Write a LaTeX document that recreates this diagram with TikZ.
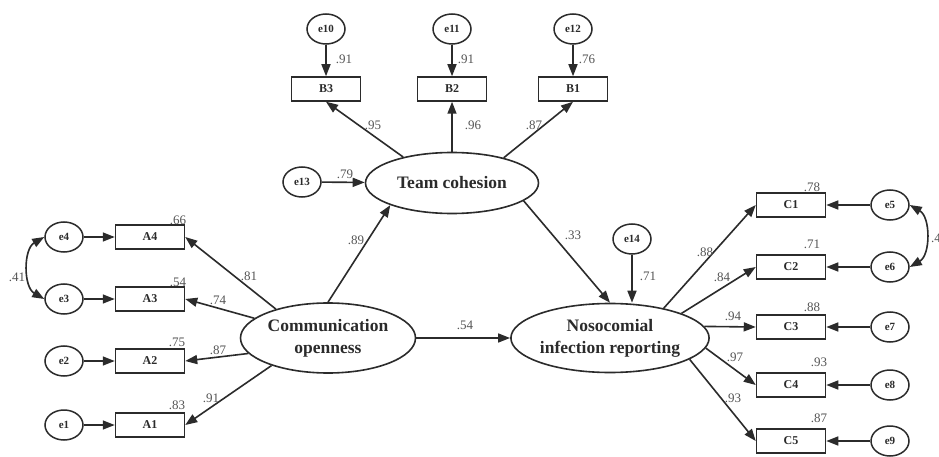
\documentclass[tikz,border=0pt]{standalone}
\usepackage{fontspec}
\setmainfont{Liberation Serif}
\usetikzlibrary{arrows.meta,shapes.geometric}
\definecolor{ln}{HTML}{2B2B2B}
\definecolor{num}{HTML}{555555}
\begin{document}
\begin{tikzpicture}[x=1pt,y=-1pt,
  lat/.style={ellipse,draw=ln,line width=1.6pt,inner sep=0pt,minimum width=175pt,minimum height=70pt,
    font=\fontsize{17.5}{22}\selectfont\bfseries,text=ln,align=center},
  err/.style={ellipse,draw=ln,line width=1.5pt,minimum width=38pt,minimum height=30pt,inner sep=0pt,
    font=\fontsize{11}{13}\selectfont\bfseries,text=ln},
  obs/.style={rectangle,draw=ln,line width=1.5pt,minimum width=69pt,minimum height=24pt,inner sep=0pt,
    font=\fontsize{12}{14}\selectfont\bfseries,text=ln},
  val/.style={font=\fontsize{13}{15}\selectfont,text=num,inner sep=0pt},
  arr/.style={draw=ln,line width=1.6pt,-{Triangle[length=12pt,width=9pt]}},
  cov/.style={draw=ln,line width=1.6pt,{Triangle[length=12pt,width=9pt]}-{Triangle[length=12pt,width=9pt]}}
]
\useasboundingbox (0,0) rectangle (939,457);
\fill[white] (0,0) rectangle (939,457);

% latent variables
\node[lat] (comm) at (328,338) {Communication\\openness};
\node[lat,minimum width=173pt,minimum height=69pt] (nos) at (610,338) {Nosocomial\\infection reporting};
\node[lat,minimum width=173pt,minimum height=61pt] (team) at (452,183) {Team cohesion};

% left indicators
\node[obs] (A4) at (150,237) {A4};
\node[obs] (A3) at (150,299) {A3};
\node[obs] (A2) at (150,361) {A2};
\node[obs] (A1) at (150,425) {A1};
\node[err] (e4) at (64,237) {e4};
\node[err] (e3) at (64,299) {e3};
\node[err] (e2) at (64,361) {e2};
\node[err] (e1) at (64,425) {e1};

% top indicators
\node[obs] (B3) at (326,89) {B3};
\node[obs] (B2) at (452,89) {B2};
\node[obs] (B1) at (573,89) {B1};
\node[err] (e10) at (326,29) {e10};
\node[err] (e11) at (452,29) {e11};
\node[err] (e12) at (573,29) {e12};
\node[err] (e13) at (302,182) {e13};
\node[err] (e14) at (632,239) {e14};

% right indicators
\node[obs] (C1) at (791,205) {C1};
\node[obs] (C2) at (791,267) {C2};
\node[obs] (C3) at (791,327) {C3};
\node[obs] (C4) at (791,385) {C4};
\node[obs] (C5) at (791,441) {C5};
\node[err] (e5) at (890,205) {e5};
\node[err] (e6) at (890,267) {e6};
\node[err] (e7) at (890,327) {e7};
\node[err] (e8) at (890,385) {e8};
\node[err] (e9) at (890,441) {e9};

% error arrows
\foreach \e/\o in {e4/A4,e3/A3,e2/A2,e1/A1,e10/B3,e11/B2,e12/B1,e5/C1,e6/C2,e7/C3,e8/C4,e9/C5}
  \draw[arr] (\e) -- (\o);
\draw[arr] (e13) -- (team);
\draw[arr] (e14) -- (e14 |- nos.north);

% covariances
\draw[cov] (e4.west) to[bend right=60] (e3.west);
\draw[cov] (e5.east) to[bend left=60] (e6.east);

% loadings
\draw[arr] (comm.151) -- (A4.east);
\draw[arr] (comm.165) -- (A3.east);
\draw[arr] (comm.191) -- (A2.east);
\draw[arr] (comm.206) -- (A1.east);
\draw[arr] (team.152) -- (B3.south);
\draw[arr] (team.north) -- (B2.south);
\draw[arr] (team.26) -- (B1.south);
\draw[arr] (nos.29) -- (C1.west);
\draw[arr] (nos.19) -- (C2.west);
\draw[arr] (nos.7) -- (C3.west);
\draw[arr] (nos.-6) -- (C4.west);
\draw[arr] (nos.-15) -- (C5.west);

% structural paths
\draw[arr] (comm.north) -- (team.south west);
\draw[arr] (comm.east) -- (nos.west);
\draw[arr] (team.-14) -- (nos.north);

% values
\node[val] (v66) at (178,220) {.66};
\node[val] (v54) at (178,282) {.54};
\node[val] (v75) at (177,342) {.75};
\node[val] (v83) at (177,405) {.83};
\node[val] (v81) at (249,276) {.81};
\node[val] (v74) at (218,300) {.74};
\node[val] (v87a) at (218,350) {.87};
\node[val] (v91a) at (211,398) {.91};
\node[val] (v41) at (17,277) {.41};

\node[val] (v91b) at (344,59) {.91};
\node[val] (v91c) at (466,59) {.91};
\node[val] (v76) at (587,59) {.76};
\node[val] (v95) at (373,125) {.95};
\node[val] (v96) at (473,125) {.96};
\node[val] (v87b) at (534,125) {.87};
\node[val] (v79) at (345,174) {.79};

\node[val] (v89) at (356,240) {.89};
\node[val] (v33) at (573,235) {.33};
\node[val] (v54b) at (465,325) {.54};
\node[val] (v71a) at (648,276) {.71};

\node[val] (v78) at (812,187) {.78};
\node[val] (v71b) at (812,244) {.71};
\node[val] (v88a) at (812,307) {.88};
\node[val] (v93a) at (819,362) {.93};
\node[val] (v87c) at (819,418) {.87};
\node[val] (v88b) at (705,252) {.88};
\node[val] (v84) at (722,277) {.84};
\node[val] (v94) at (733,316) {.94};
\node[val] (v97) at (735,357) {.97};
\node[val] (v93b) at (733,398) {.93};
\node[val,anchor=west] (v41r) at (931,238) {.41};
\end{tikzpicture}
\end{document}
